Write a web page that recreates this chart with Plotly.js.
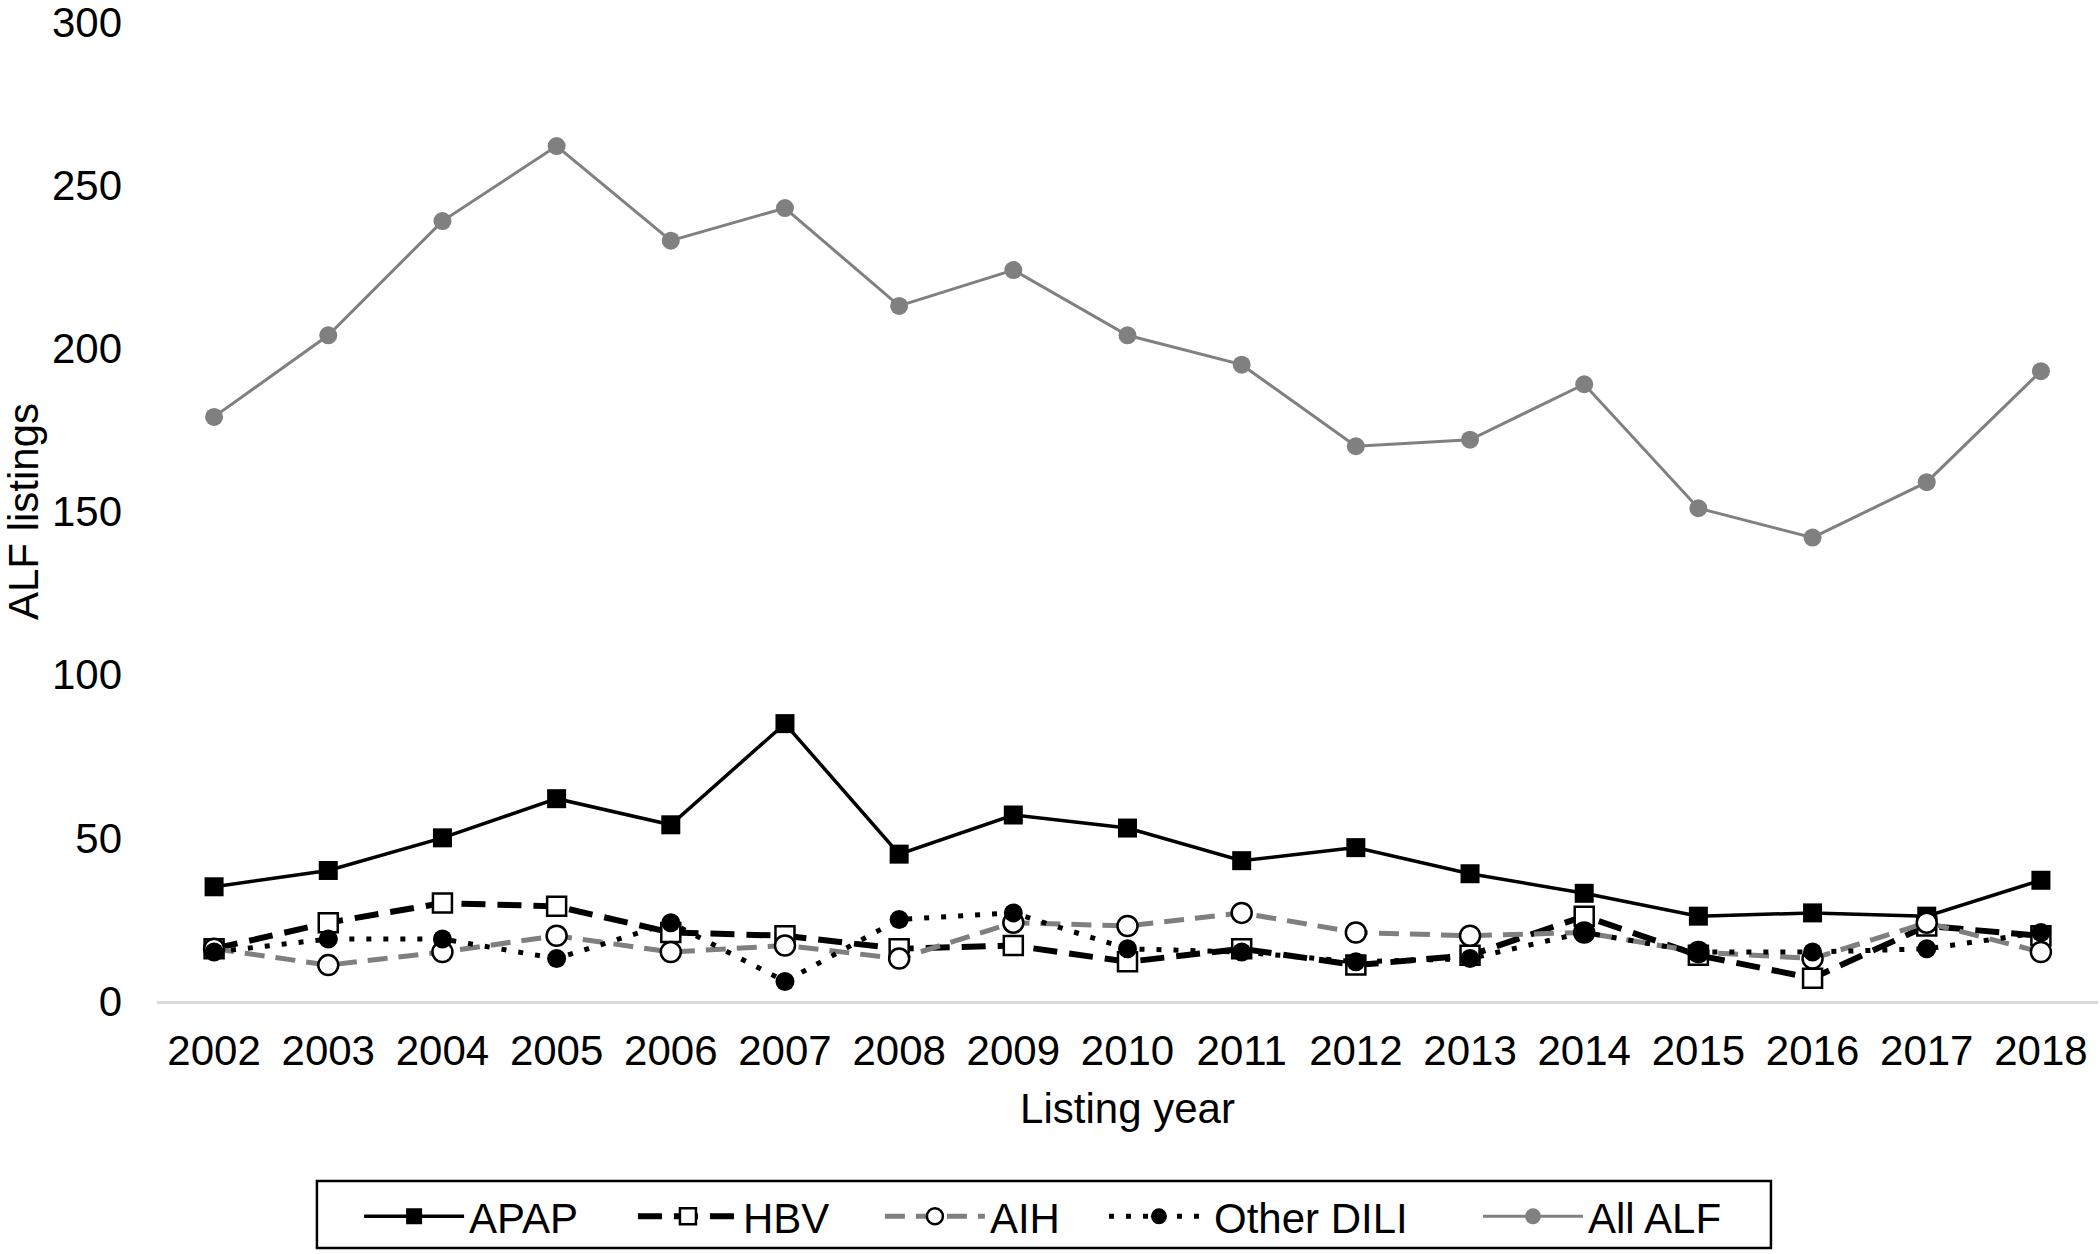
<!DOCTYPE html>
<html>
<head>
<meta charset="utf-8">
<script src="https://cdn.plot.ly/plotly-3.0.1.min.js"></script>
<style>html,body{margin:0;padding:0;background:#fff;}#chart{width:2100px;height:1254px;}</style>
</head>
<body>
<div id="chart"></div>
<script>
const years = ["2002","2003","2004","2005","2006","2007","2008","2009","2010","2011","2012","2013","2014","2015","2016","2017","2018"];
const apap     = [35, 40, 50, 62, 54, 85, 45, 57, 53, 43, 47, 39, 33, 26, 27, 26, 37];
const hbv      = [16, 24, 30, 29, 21, 20, 16, 17, 12, 16, 11, 14, 26, 14, 7, 23, 20];
const aih      = [16, 11, 15, 20, 15, 17, 13, 24, 23, 27, 21, 20, 21, 15, 13, 24, 15];
const otherDili= [15, 19, 19, 13, 24, 6, 25, 27, 16, 15, 12, 13, 21, 15, 15, 16, 21];
const allAlf   = [179, 204, 239, 262, 233, 243, 213, 224, 204, 195, 170, 172, 189, 151, 142, 159, 193];
const yTicks = [0, 50, 100, 150, 200, 250, 300];

const FONT = "Liberation Sans, Arial, sans-serif";

const traces = [
  {name:"APAP", legend:"legend", x:years, y:apap, type:"scatter", mode:"lines+markers",
   line:{color:"#000000", width:3.5},
   marker:{symbol:"square", size:19, color:"#000000"}},
  {name:"HBV", legend:"legend2", x:years, y:hbv, type:"scatter", mode:"lines+markers",
   line:{color:"#000000", width:6, dash:"24px,12px"},
   marker:{symbol:"square", size:19, color:"#ffffff", line:{color:"#000000", width:2.5}}},
  {name:"AIH", legend:"legend3", x:years, y:aih, type:"scatter", mode:"lines+markers",
   line:{color:"#7f7f7f", width:5, dash:"20px,11px"},
   marker:{symbol:"circle", size:20, color:"#ffffff", line:{color:"#000000", width:2.5}}},
  {name:"Other DILI", legend:"legend4", x:years, y:otherDili, type:"scatter", mode:"lines+markers",
   line:{color:"#000000", width:5, dash:"5px,12px"},
   marker:{symbol:"circle", size:19, color:"#000000"}},
  {name:"All ALF", legend:"legend5", x:years, y:allAlf, type:"scatter", mode:"lines+markers",
   line:{color:"#808080", width:3},
   marker:{symbol:"circle", size:18, color:"#808080"}}
];

function leg(x) {
  return {orientation:"h", xref:"container", yref:"container", x:x, xanchor:"left", y:0.057, yanchor:"top",
          itemwidth:100, borderwidth:0, bgcolor:"rgba(0,0,0,0)", font:{family:FONT, size:42, color:"#000000"}};
}

const layout = {
  width:2100, height:1254,
  paper_bgcolor:"#ffffff", plot_bgcolor:"#ffffff",
  font:{family:FONT, size:42, color:"#000000"},
  margin:{l:157, r:2, t:22, b:253},
  showlegend:true,
  legend:leg(0.171), legend2:leg(0.3014), legend3:leg(0.419), legend4:leg(0.5257), legend5:leg(0.7038),
  shapes:[{type:"rect", xref:"paper", yref:"paper", x0:0.0824, x1:0.8315, y0:-0.1838, y1:-0.2522,
           line:{color:"#000000", width:2.5}, fillcolor:"rgba(0,0,0,0)", layer:"below"}],
  xaxis:{type:"category", range:[-0.5,16.5], showgrid:false, zeroline:false,
         showline:true, linecolor:"#d9d9d9", linewidth:3, ticks:"",
         ticklabelstandoff:11, tickfont:{family:FONT, size:42, color:"#000000"},
         title:{text:"Listing year", font:{family:FONT, size:42, color:"#000000"}, standoff:21}},
  yaxis:{range:[0,300.01], tickvals:yTicks, showgrid:false, zeroline:false, showline:false, ticks:"",
         ticklabeloverflow:"allow", automargin:false,
         ticklabelstandoff:34, tickfont:{family:FONT, size:42, color:"#000000"},
         title:{text:"ALF listings", font:{family:FONT, size:42, color:"#000000"}, standoff:11}}
};

Plotly.newPlot("chart", traces, layout, {displayModeBar:false, staticPlot:true});
</script>
</body>
</html>
